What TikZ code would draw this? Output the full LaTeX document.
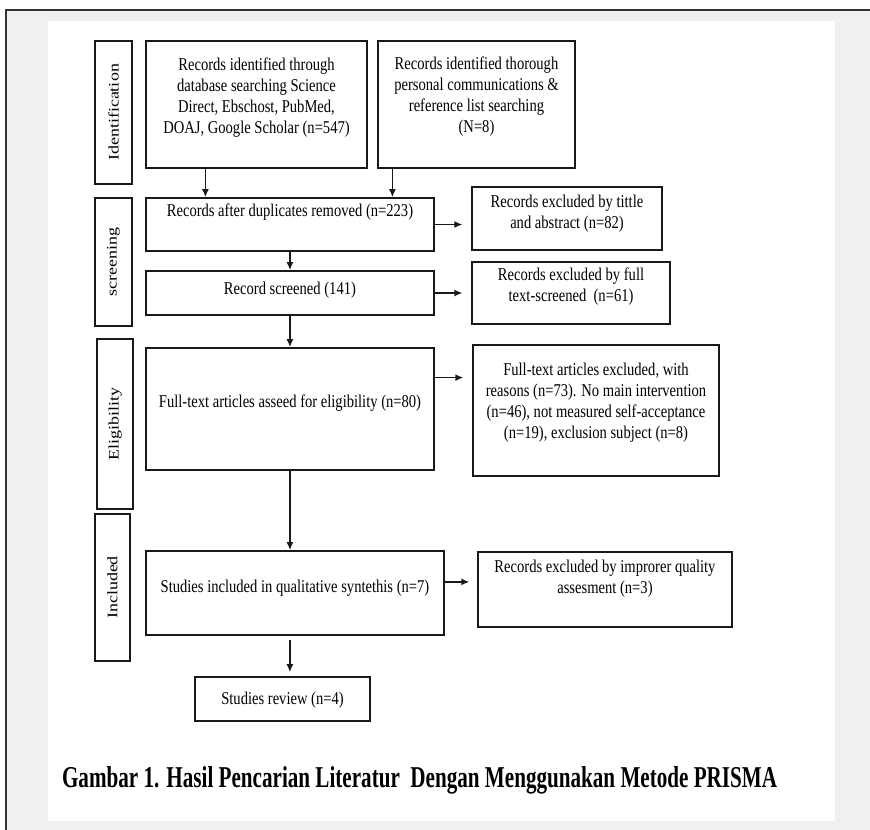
\documentclass[tikz,border=0pt]{standalone}
\usepackage{graphicx}
\usepackage{fontspec}
\setmainfont{Liberation Serif}
\usetikzlibrary{arrows.meta, calc}

\definecolor{pagegray}{HTML}{F0F0F0}
\definecolor{framegray}{HTML}{333333}

% box text: width, height, top padding, lines
\newcommand{\boxtxt}[4]{\parbox[c][#2][t]{#1}{\centering\vspace*{#3}#4}}

\begin{document}
\begin{tikzpicture}[
    x=1pt, y=-1pt, xscale=0.81, transform shape,
    flow/.style={draw=black!90, line width=1.6pt, inner sep=0pt, fill=white, font=\fontsize{18pt}{21pt}\selectfont},
    stage/.style={flow, rotate=90},
    arr/.style={-{Latex[length=8pt,width=7pt]}, line width=1.5pt, draw=black!90},
    caption/.style={font=\bfseries, anchor=base}
]

% Page background
\useasboundingbox (0,0) rectangle (1074.1,830);
\fill[white] (0,0) rectangle (1074.1,830);
\fill[pagegray] (7.4,10) rectangle (1074.1,830);
\fill[white] (59.3,21) rectangle (1030.9,821);
\draw[framegray, line width=2pt] (7.4,830) -- (7.4,10) -- (1074.1,10);

% Stage labels
\foreach \stg/\txt/\xc/\yc/\tall/\thick in {ident/Identification/140.1/112.5/143/45.7,
    screen/screening/140.1/262/128/45.7, elig/Eligibility/142/424/170/44.4,
    incl/Included/138.9/587.5/147/43.2} {
    \node[stage, minimum width=\tall pt, minimum height=\thick pt] (stage-\stg) at (\xc,\yc) {\txt};
}

% Main column
\node[flow] (dbs) at (316.7,104.5) {\boxtxt{272.8pt}{127pt}{17pt}{Records identified through\\database searching Science\\Direct, Ebschost, PubMed,\\DOAJ, Google Scholar (n=547)}};
\node[flow] (oth) at (588.3,104.5) {\boxtxt{243.2pt}{127pt}{16pt}{Records identified thorough\\personal communications \&\\reference list searching\\(N=8)}};
\node[flow] (dup) at (358,224.5) {\boxtxt{355.6pt}{53pt}{6pt}{Records after duplicates removed (n=223)}};
\node[flow] (scr) at (358,293) {\boxtxt{355.6pt}{44pt}{11pt}{Record screened (141)}};
\node[flow] (elig) at (358,409) {\boxtxt{355.6pt}{122pt}{47pt}{Full-text articles asseed for eligibility (n=80)}};
\node[flow] (incl) at (364.2,593) {\boxtxt{367.9pt}{84pt}{29pt}{Studies included in qualitative syntethis (n=7)}};
\node[flow] (rev) at (348.8,699) {\boxtxt{216pt}{44pt}{15pt}{Studies review (n=4)}};

% Excluded records
\node[flow] (ex1) at (700,218.5) {\boxtxt{234.6pt}{63pt}{8pt}{Records excluded by tittle\\and abstract (n=82)}};
\node[flow] (ex2) at (705,293) {\boxtxt{244.4pt}{62pt}{6pt}{Records excluded by full\\text-screened~ (n=61)}};
\node[flow] (ex3) at (735.8,410.5) {\boxtxt{303.7pt}{131pt}{18pt}{Full-text articles excluded, with\\reasons (n=73). No main intervention\\(n=46), not measured self-acceptance\\(n=19), exclusion subject (n=8)}};
\node[flow] (ex4) at (746.9,589.5) {\boxtxt{313.6pt}{75pt}{8pt}{Records excluded by improrer quality\\assesment (n=3)}};

% Arrow start points
\coordinate (dbs-out) at ($(dbs.south west)!0.27!(dbs.south east)$);
\coordinate (oth-out) at ($(oth.south west)!0.076!(oth.south east)$);
\coordinate (incl-out) at ($(incl.south west)!0.483!(incl.south east)$);
\coordinate (elig-side) at ($(elig.north east)!0.246!(elig.south east)$);
\coordinate (incl-side) at ($(incl.north east)!0.37!(incl.south east)$);

% Downward arrows
\draw[arr] (dbs-out) -- (dbs-out |- dup.north);
\draw[arr] (oth-out) -- (oth-out |- dup.north);
\draw[arr] (dup.south) -- (scr.north);
\draw[arr] (scr.south) -- (elig.north);
\draw[arr] (elig.south) -- (elig.south |- incl.north);
\draw[arr, shorten <=4pt, shorten >=4pt] (incl-out) -- (incl-out |- rev.north);

% Arrows to excluded boxes
\draw[arr, shorten >=9pt] (dup.east) -- (dup.east -| ex1.west);
\draw[arr, shorten >=9pt] (scr.east) -- (scr.east -| ex2.west);
\draw[arr, shorten >=9pt] (elig-side) -- (elig-side -| ex3.west);
\draw[arr, shorten >=8pt] (incl-side) -- (incl-side -| ex4.west);

% Caption
\node[caption] (title) at (518,788) {\resizebox{882.7pt}{21pt}{Gambar 1. Hasil Pencarian Literatur~ Dengan Menggunakan Metode PRISMA}};

\end{tikzpicture}
\end{document}
